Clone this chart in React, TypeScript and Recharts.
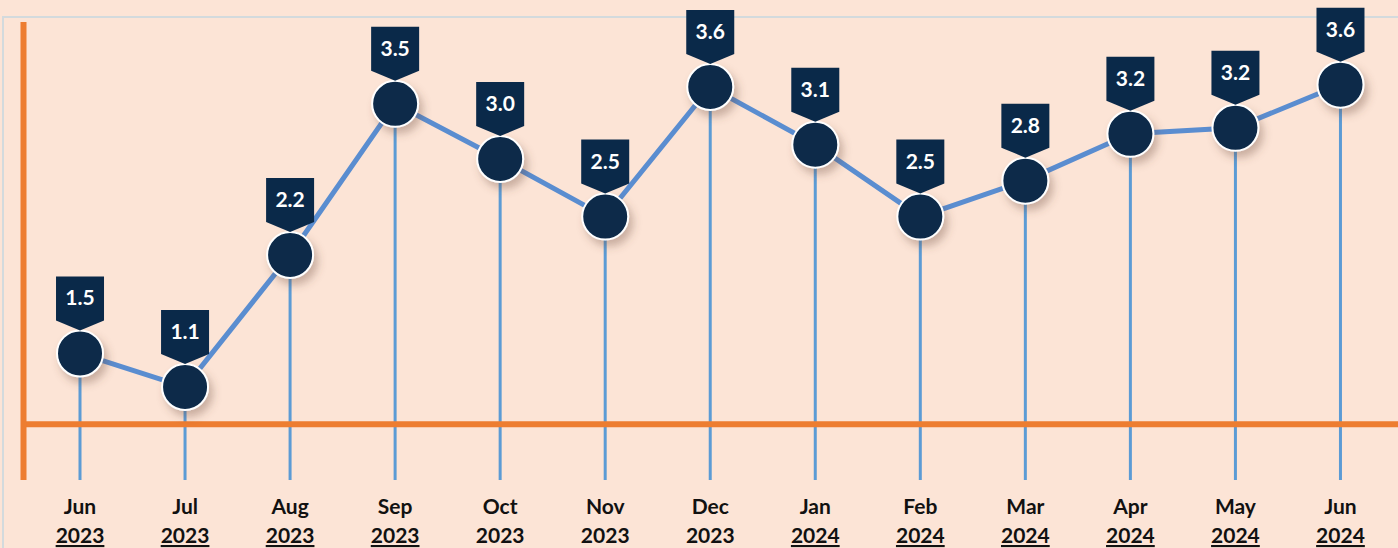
import { ComposedChart, Bar, Line, XAxis, YAxis, ReferenceLine } from 'recharts';

const months = ['Jun', 'Jul', 'Aug', 'Sep', 'Oct', 'Nov', 'Dec', 'Jan', 'Feb', 'Mar', 'Apr', 'May', 'Jun'];
const years = ['2023', '2023', '2023', '2023', '2023', '2023', '2023', '2024', '2024', '2024', '2024', '2024', '2024'];
const underlined = [true, true, true, true, false, false, false, true, true, true, true, true, true];
// plotted positions
const values = [1.38, 1.1, 2.2, 3.46, 3.0, 2.52, 3.6, 3.12, 2.52, 2.82, 3.21, 3.26, 3.62];
// figures printed in the callouts
const labels = ['1.5', '1.1', '2.2', '3.5', '3.0', '2.5', '3.6', '3.1', '2.5', '2.8', '3.2', '3.2', '3.6'];
const baseline = 0.79;

const data = months.map((m, i) => ({ idx: i, month: m, year: years[i], value: values[i] }));

const NAVY = '#0A2949';
const ORANGE = '#ED7D31';
const FONT = "'Century Gothic', Lato, 'Open Sans', sans-serif";

const MonthTick = (props: any) => {
  const { x, y, payload } = props;
  const i = payload.value as number;
  return (
    <g>
      <text x={x} y={y + 34} textAnchor="middle" fontFamily={FONT} fontWeight={700} fontSize={21} fill="#111">
        {months[i]}
      </text>
      <text
        x={x}
        y={y + 63}
        textAnchor="middle"
        fontFamily={FONT}
        fontWeight={700}
        fontSize={21}
        fill="#111"
        textDecoration={underlined[i] ? 'underline' : undefined}
      >
        {years[i]}
      </text>
    </g>
  );
};

const Marker = (props: any) => {
  const { cx, cy, index } = props;
  if (cx == null || cy == null) return null;
  const pts = [
    [cx - 24, cy - 77],
    [cx + 24, cy - 77],
    [cx + 24, cy - 33],
    [cx, cy - 23],
    [cx - 24, cy - 33],
  ]
    .map((p) => p.join(','))
    .join(' ');
  return (
    <g key={`m-${index}`}>
      <circle cx={cx} cy={cy} r={23} fill={NAVY} stroke="#fff" strokeWidth={2} filter="url(#dotShadow)" />
      <polygon points={pts} fill={NAVY} />
      <text x={cx} y={cy - 48} textAnchor="middle" fontFamily={FONT} fontWeight={700} fontSize={21} fill="#fff">
        {labels[index]}
      </text>
    </g>
  );
};

export default function App() {
  return (
    <div style={{ position: 'absolute', left: 0, top: 0, width: 1398, height: 548, background: '#FCE4D6', overflow: 'hidden' }}>
      <div
        style={{
          position: 'absolute',
          left: 2,
          top: 16,
          width: 1400,
          height: 540,
          borderTop: '2px solid #D3DADD',
          borderLeft: '2px solid #D3DADD',
        }}
      />
      <svg width={0} height={0} style={{ position: 'absolute' }}>
        <defs>
          <filter id="dotShadow" x="-50%" y="-50%" width="200%" height="200%">
            <feDropShadow dx={4} dy={6} stdDeviation={4} floodColor="#6b4a3a" floodOpacity={0.35} />
          </filter>
        </defs>
      </svg>
      <div style={{ position: 'absolute', left: 0, top: 0 }}>
        <ComposedChart width={1398} height={548} data={data} margin={{ top: 22, right: 0, bottom: 0, left: 0 }}>
          <XAxis
            dataKey="idx"
            axisLine={false}
            tickLine={false}
            tickSize={0}
            tickMargin={0}
            interval={0}
            height={68}
            padding={{ left: 4, right: 5 }}
            tick={<MonthTick />}
          />
          <YAxis
            type="number"
            domain={[0.325, 4.142]}
            width={23.5}
            tick={false}
            tickLine={false}
            axisLine={{ stroke: ORANGE, strokeWidth: 6 }}
          />
          <ReferenceLine y={baseline} stroke={ORANGE} strokeWidth={6} />
          <Bar dataKey="value" barSize={3} fill="#5B9BD5" isAnimationActive={false} />
          <Line
            dataKey="value"
            stroke="#5A8DD0"
            strokeWidth={5}
            dot={<Marker />}
            activeDot={false}
            isAnimationActive={false}
          />
        </ComposedChart>
      </div>
    </div>
  );
}
